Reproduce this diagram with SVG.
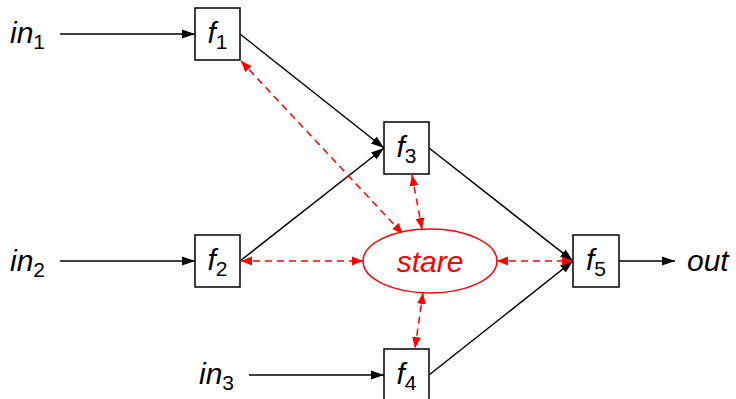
<svg xmlns="http://www.w3.org/2000/svg" width="736" height="399" viewBox="0 0 736 399">
<style>
text{font-family:"Liberation Sans",Arial,sans-serif;font-size:30px;font-style:italic}
.sub{font-size:21px;font-style:normal}
.box{fill:#fff;stroke:#000;stroke-width:1.5}
.bl{stroke:#000;stroke-width:1.5;fill:none}
.rd{stroke:#f00;stroke-width:1.5;fill:none;stroke-dasharray:7 5}
</style>
<defs>
<marker id="ab" markerUnits="userSpaceOnUse" markerWidth="14" markerHeight="10" refX="13" refY="5" orient="auto"><path d="M0,0.5 L13,5 L0,9.5 z" fill="#000"/></marker>
<marker id="ar" markerUnits="userSpaceOnUse" markerWidth="12" markerHeight="10" refX="11" refY="5" orient="auto-start-reverse"><path d="M0,0.5 L11,5 L0,9.5 z" fill="#f00"/></marker>
</defs>
<g id="connectors">
<line class="bl" x1="60" y1="34" x2="195" y2="34" marker-end="url(#ab)"/>
<line class="bl" x1="60" y1="261" x2="195" y2="261" marker-end="url(#ab)"/>
<line class="bl" x1="249" y1="375" x2="384" y2="375" marker-end="url(#ab)"/>
<line class="bl" x1="240" y1="34" x2="384" y2="148" marker-end="url(#ab)"/>
<line class="bl" x1="240" y1="261" x2="384" y2="148" marker-end="url(#ab)"/>
<line class="bl" x1="429" y1="148" x2="573" y2="261" marker-end="url(#ab)"/>
<line class="bl" x1="429" y1="375" x2="573" y2="261" marker-end="url(#ab)"/>
<line class="bl" x1="619" y1="261" x2="675" y2="261" marker-end="url(#ab)"/>
<line class="rd" x1="241" y1="61" x2="403" y2="234" marker-start="url(#ar)" marker-end="url(#ar)"/>
<line class="rd" x1="412" y1="175" x2="422" y2="229" marker-start="url(#ar)" marker-end="url(#ar)"/>
<line class="rd" x1="241" y1="261" x2="363" y2="261" marker-start="url(#ar)" marker-end="url(#ar)"/>
<line class="rd" x1="497" y1="261" x2="573" y2="261" marker-start="url(#ar)" marker-end="url(#ar)"/>
<line class="rd" x1="423" y1="293" x2="415" y2="348" marker-start="url(#ar)" marker-end="url(#ar)"/>
</g>
<g id="in1"><text x="10" y="43">in<tspan class="sub" dy="6">1</tspan></text></g>
<g id="in2"><text x="10" y="271">in<tspan class="sub" dy="6">2</tspan></text></g>
<g id="in3"><text x="199" y="384">in<tspan class="sub" dy="6">3</tspan></text></g>
<g id="out"><text x="687" y="271">out</text></g>
<g id="f1"><rect class="box" x="195" y="8" width="45" height="52"/><text x="217.5" y="43" text-anchor="middle">f<tspan class="sub" dy="6">1</tspan></text></g>
<g id="f2"><rect class="box" x="195" y="235" width="45" height="52"/><text x="217.5" y="270" text-anchor="middle">f<tspan class="sub" dy="6">2</tspan></text></g>
<g id="f3"><rect class="box" x="384" y="122" width="45" height="52"/><text x="406.5" y="157" text-anchor="middle">f<tspan class="sub" dy="6">3</tspan></text></g>
<g id="f4"><rect class="box" x="384" y="349" width="45" height="52"/><text x="406.5" y="384" text-anchor="middle">f<tspan class="sub" dy="6">4</tspan></text></g>
<g id="f5"><rect class="box" x="573" y="235" width="46" height="52"/><text x="596" y="270" text-anchor="middle">f<tspan class="sub" dy="6">5</tspan></text></g>
<g id="stare"><ellipse cx="430" cy="261" rx="67" ry="32" fill="#fff" stroke="#f00" stroke-width="1.5"/><text x="430" y="272" text-anchor="middle" fill="#f00">stare</text></g>
</svg>
